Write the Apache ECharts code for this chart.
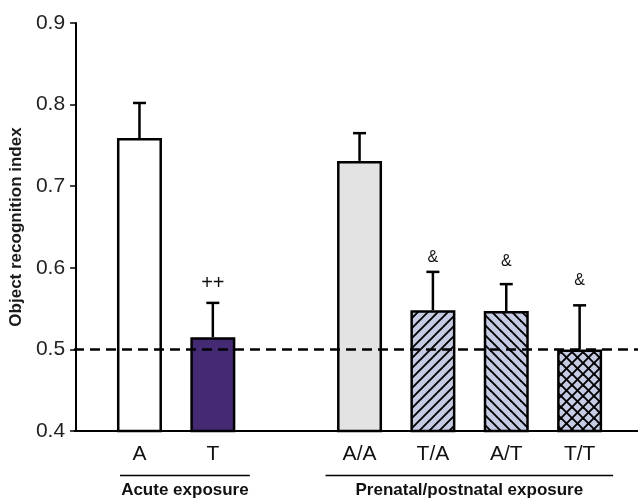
<!DOCTYPE html>
<html><head><meta charset="utf-8">
<script src="https://cdn.jsdelivr.net/npm/echarts@6/dist/echarts.min.js"></script>
<style>html,body{margin:0;padding:0;background:#fff}#c{width:638px;height:500px}</style>
</head><body><div id="c"></div>
<script>
// ---- data ----
const categories = ['A', 'T', '', 'A/A', 'T/A', 'A/T', 'T/T'];
const means = [0.759, 0.515, null, 0.731, 0.548, 0.547, 0.500];
const sems = [0.043, 0.042, null, 0.034, 0.047, 0.033, 0.054];
const marks = ['', '++', '', '', '&', '&', '&'];
const markLevels = [null, 0.581, null, null, 0.612, 0.607, 0.584];
const yTicks = [0.4, 0.5, 0.6, 0.7, 0.8, 0.9];
const chance = 0.5;
const groupNames = ['Acute exposure', 'Prenatal/postnatal exposure'];
const groupFrom = [0, 3];
const groupTo = [1, 6];

// ---- layout / style ----
const gridLeft = 100.7, gridRight = 21.7, gridTop = 23, gridBottom = 69;
const yOffset = 26.7;
const FONT = 'Liberation Sans, Arial, sans-serif';
const markFont = { '++': '20px ', '&': '16px ' };

function hatch(kind, s, bg) {
  const c = document.createElement('canvas');
  c.width = s; c.height = s;
  const g = c.getContext('2d');
  g.fillStyle = bg; g.fillRect(0, 0, s, s);
  g.strokeStyle = '#000'; g.lineWidth = 1.9; g.lineCap = 'square';
  const seg = (a, b, cc, d) => { g.beginPath(); g.moveTo(a, b); g.lineTo(cc, d); g.stroke(); };
  if (kind === '/' || kind === 'x') {
    seg(0, s, s, 0); seg(-1, 1, 1, -1); seg(s - 1, s + 1, s + 1, s - 1);
  }
  if (kind === '\\' || kind === 'x') {
    seg(0, 0, s, s); seg(-1, s - 1, 1, s + 1); seg(s - 1, -1, s + 1, 1);
  }
  return { image: c, repeat: 'repeat' };
}
const fills = ['#ffffff', '#432a72', '#ffffff', '#e3e3e3',
  hatch('/', 10, '#c5cbe3'), hatch('\\', 10, '#c5cbe3'), hatch('x', 11, '#c5cbe3')];

const barData = means.map((v, i) => ({
  value: v == null ? '-' : v,
  itemStyle: { color: fills[i] }
}));

const option = {
  animation: false,
  backgroundColor: '#fff',
  grid: { left: gridLeft, right: gridRight, top: gridTop, bottom: gridBottom, containLabel: false },
  xAxis: {
    type: 'category',
    data: categories,
    axisLine: { show: false },
    axisTick: { show: false },
    axisLabel: { color: '#111', fontFamily: FONT, fontSize: 21, margin: 13 }
  },
  yAxis: {
    type: 'value',
    min: yTicks[0], max: yTicks[yTicks.length - 1], interval: 0.1,
    offset: yOffset,
    name: 'Object recognition index',
    nameLocation: 'middle',
    nameGap: 49,
    nameTextStyle: { color: '#1a1a1a', fontFamily: FONT, fontSize: 17, fontWeight: 'bold' },
    axisLine: { show: true, lineStyle: { color: '#000', width: 2 } },
    axisTick: { show: true, inside: false, length: 6, lineStyle: { color: '#000', width: 1.5 } },
    axisLabel: { color: '#222', fontFamily: FONT, fontSize: 21, margin: 11,
      formatter: v => v.toFixed(1) },
    splitLine: { show: false }
  },
  series: [
    {
      type: 'bar',
      data: barData,
      barWidth: 45,
      itemStyle: { borderColor: '#000', borderWidth: 2.5 },
      z: 2
    },
    {
      type: 'custom',
      z: 3,
      data: means.map((v, i) => [i, v == null ? 0 : v, sems[i] == null ? 0 : sems[i],
        markLevels[i] == null ? 0 : markLevels[i]]),
      renderItem: function (params, api) {
        const i = api.value(0);
        if (means[i] == null) return { type: 'group', children: [] };
        const top = api.coord([i, api.value(1)]);
        const up = api.coord([i, api.value(1) + api.value(2)]);
        const ls = { stroke: '#000', lineWidth: 2.5 };
        const children = [
          { type: 'line', shape: { x1: top[0], y1: top[1], x2: up[0], y2: up[1] }, style: ls },
          { type: 'line', shape: { x1: up[0] - 6.5, y1: up[1], x2: up[0] + 6.5, y2: up[1] }, style: ls }
        ];
        if (marks[i]) {
          const mp = api.coord([i, api.value(3)]);
          children.push({ type: 'text', x: mp[0], y: mp[1],
            style: { text: marks[i], fill: '#111', font: markFont[marks[i]] + FONT, align: 'center', verticalAlign: 'middle' } });
        }
        return { type: 'group', children: children };
      }
    }
  ]
};

const chart = echarts.init(document.getElementById('c'), null, { renderer: 'canvas' });
chart.setOption(option);

const px = (i, v) => chart.convertToPixel({ gridIndex: 0 }, [i, v]);
const axisX = gridLeft - yOffset;
const baseY = px(0, yTicks[0])[1];
const chanceY = px(0, chance)[1];
const graphics = [
  { type: 'line', shape: { x1: axisX, y1: baseY, x2: 638, y2: baseY }, style: { stroke: '#000', lineWidth: 2 }, z: 10 },
  { type: 'line', shape: { x1: axisX, y1: chanceY, x2: 638, y2: chanceY }, style: { stroke: '#000', lineWidth: 2.5, lineDash: [10, 6] }, z: 10 }
];
const lineY = 475.5, textY = 490;
const padL = [19.5, 34], padR = [37, 33.5];
groupNames.forEach((name, g) => {
  const x1 = px(groupFrom[g], chance)[0] - padL[g];
  const x2 = px(groupTo[g], chance)[0] + padR[g];
  graphics.push({ type: 'line', shape: { x1: x1, y1: lineY, x2: x2, y2: lineY }, style: { stroke: '#000', lineWidth: 1.5 }, z: 10 });
  graphics.push({ type: 'text', x: (x1 + x2) / 2, y: textY,
    style: { text: name, fill: '#111', font: 'bold 17px ' + FONT, align: 'center', verticalAlign: 'middle' }, z: 10 });
});
chart.setOption({ graphic: graphics });
</script>
</body></html>
